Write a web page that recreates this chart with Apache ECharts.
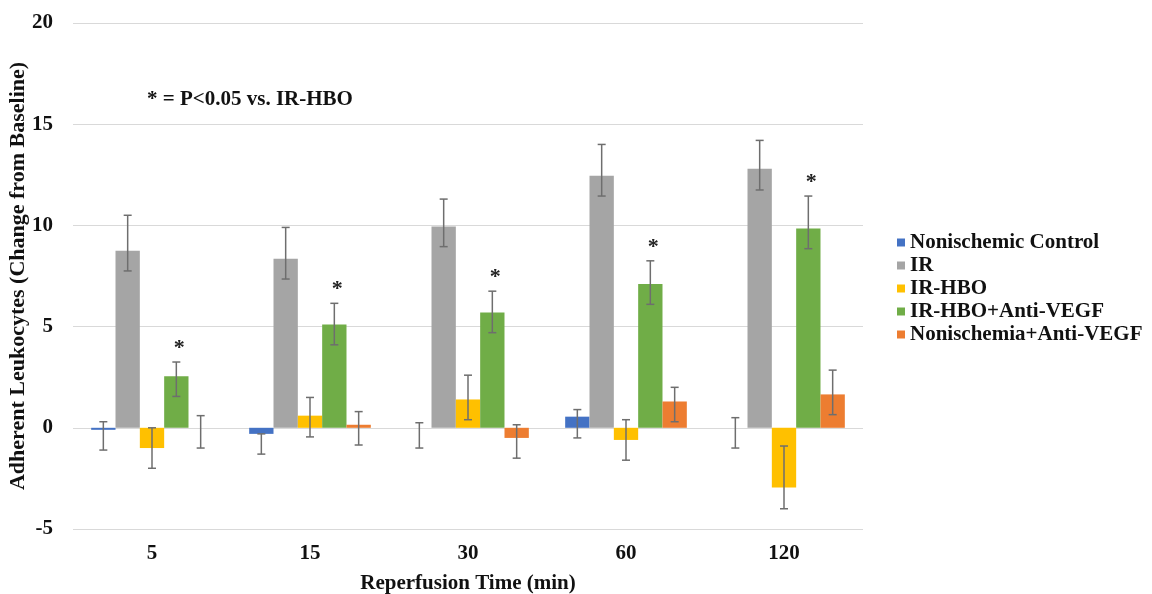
<!DOCTYPE html>
<html>
<head>
<meta charset="utf-8">
<title>Adherent Leukocytes</title>
<script src="https://cdn.jsdelivr.net/npm/echarts@6/dist/echarts.min.js"></script>
<style>
    html, body { margin: 0; padding: 0; background: #fff; }
    #content { width: 1152px; height: 594px; }
</style>
</head>
<body>
<div id="content"></div>
<script>
// 横轴分类（再灌注时间）
var categories = ["5", "15", "30", "60", "120"];
var seriesNames = ["Nonischemic Control", "IR", "IR-HBO", "IR-HBO+Anti-VEGF", "Nonischemia+Anti-VEGF"];
var colors = ["#4472C4", "#A5A5A5", "#FFC000", "#70AD47", "#ED7D31"];

// 各组均值
var nonischemic = [-0.1, -0.3, 0, 0.55, 0];
var ir = [8.75, 8.35, 9.95, 12.45, 12.8];
var irHbo = [-1.0, 0.6, 1.4, -0.6, -2.95];
var irHboVegf = [2.55, 5.1, 5.7, 7.1, 9.85];
var nonVegf = [0, 0.15, -0.5, 1.3, 1.65];

// 误差线上端
var nonischemicHi = [0.3, -0.3, 0.25, 0.9, 0.5];
var irHi = [10.5, 9.9, 11.3, 14.0, 14.2];
var irHboHi = [0, 1.5, 2.6, 0.4, -0.9];
var irHboVegfHi = [3.25, 6.15, 6.75, 8.25, 11.45];
var nonVegfHi = [0.6, 0.8, 0.15, 2.0, 2.85];

// 误差线下端
var nonischemicLo = [-1.1, -1.3, -1.0, -0.5, -1.0];
var irLo = [7.75, 7.35, 8.95, 11.45, 11.75];
var irHboLo = [-2.0, -0.45, 0.4, -1.6, -4.0];
var irHboVegfLo = [1.55, 4.1, 4.7, 6.1, 8.85];
var nonVegfLo = [-1.0, -0.85, -1.5, 0.3, 0.65];

// 显著性标记（* 在 IR-HBO+Anti-VEGF 上）
var starMarks = [true, true, true, true, true];

var yTicks = [-5, 0, 5, 10, 15, 20];

var means = [nonischemic, ir, irHbo, irHboVegf, nonVegf];
var highs = [nonischemicHi, irHi, irHboHi, irHboVegfHi, nonVegfHi];
var lows = [nonischemicLo, irLo, irHboLo, irHboVegfLo, nonVegfLo];

var FONT = "'Liberation Serif', 'Times New Roman', serif";
var CAT_GAP = 0.23;

var myChart = echarts.init(document.getElementById("content"));

// 误差线数据：[分类, 系列序号, 下端, 上端]
var errData = [];
for (var s = 0; s < means.length; s++) {
    for (var c = 0; c < categories.length; c++) {
        errData.push([c, s, lows[s][c], highs[s][c]]);
    }
}

function renderError(params, api) {
    var cat = api.value(0);
    var sIdx = api.value(1);
    var lo = api.value(2);
    var hi = api.value(3);
    var band = api.size([1, 0])[0];
    var groupW = band * (1 - CAT_GAP);
    var barW = groupW / means.length;
    var x = api.coord([cat, 0])[0] - groupW / 2 + barW * (sIdx + 0.5);
    var yHi = api.coord([cat, hi])[1];
    var yLo = api.coord([cat, lo])[1];
    var st = { stroke: "#6e6e6e", lineWidth: 1.5 };
    var cap = 4;
    var children = [
        { type: "line", shape: { x1: x, y1: yHi, x2: x, y2: yLo }, style: st },
        { type: "line", shape: { x1: x - cap, y1: yHi, x2: x + cap, y2: yHi }, style: st },
        { type: "line", shape: { x1: x - cap, y1: yLo, x2: x + cap, y2: yLo }, style: st }
    ];
    if (sIdx === 3 && starMarks[cat]) {
        children.push({
            type: "text",
            style: {
                text: "*",
                x: x + 3,
                y: yHi - 14,
                fill: "#222",
                font: "bold 22px " + FONT,
                align: "center",
                verticalAlign: "middle"
            }
        });
    }
    return { type: "group", children: children };
}

var series = [];
for (var i = 0; i < means.length; i++) {
    series.push({
        name: seriesNames[i],
        type: "bar",
        data: means[i],
        itemStyle: { color: colors[i] },
        barGap: "0%",
        barCategoryGap: (CAT_GAP * 100) + "%",
        z: 2
    });
}
series.push({
    type: "custom",
    name: "err",
    data: errData,
    renderItem: renderError,
    encode: { x: 0, y: [2, 3] },
    z: 5,
    silent: true
});

var textStyle = { fontFamily: FONT, fontWeight: "bold", fontSize: 21, color: "#111" };

myChart.setOption({
    animation: false,
    color: colors,
    grid: { left: 73, right: 289, top: 23, bottom: 65, outerBoundsMode: "none", containLabel: false },
    legend: {
        data: seriesNames,
        orient: "vertical",
        left: 892,
        top: 227,
        itemWidth: 8,
        itemHeight: 8,
        itemGap: 2,
        icon: "rect",
        textStyle: textStyle
    },
    graphic: [{
        type: "text",
        left: 147,
        top: 89,
        style: {
            text: "* = P<0.05 vs. IR-HBO",
            font: "bold 21px " + FONT,
            fill: "#111"
        }
    }],
    xAxis: {
        type: "category",
        data: categories,
        name: "Reperfusion Time (min)",
        nameLocation: "middle",
        nameGap: 44,
        nameMoveOverlap: false,
        nameTextStyle: textStyle,
        axisLine: { show: false },
        axisTick: { show: false },
        axisLabel: Object.assign({ margin: 14 }, textStyle)
    },
    yAxis: {
        type: "value",
        min: yTicks[0],
        max: yTicks[yTicks.length - 1],
        interval: 5,
        name: "Adherent Leukocytes (Change from Baseline)",
        nameLocation: "middle",
        nameGap: 44,
        nameMoveOverlap: false,
        nameTextStyle: Object.assign({}, textStyle, { fontSize: 22 }),
        axisLine: { show: false },
        axisTick: { show: false },
        axisLabel: Object.assign({ margin: 20 }, textStyle),
        splitLine: { lineStyle: { color: "#d9d9d9", width: 1 } }
    },
    series: series
});
</script>
</body>
</html>
